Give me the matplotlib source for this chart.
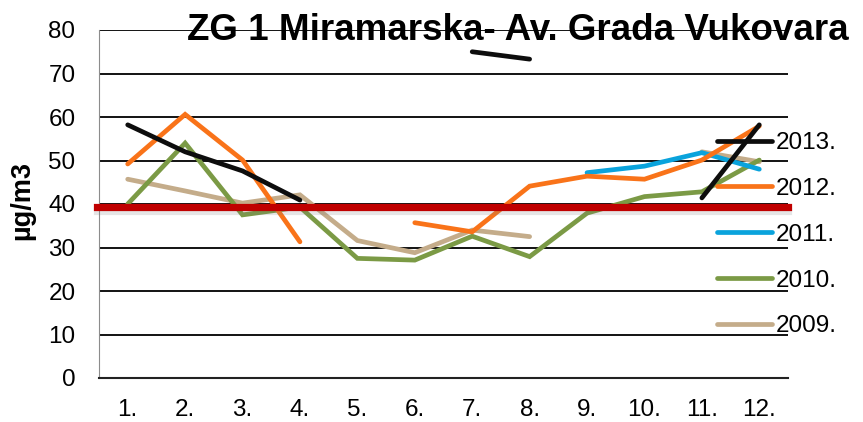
import numpy as np
import matplotlib.pyplot as plt
import matplotlib.patheffects as pe

plt.rcParams["font.family"] = ["Liberation Sans", "DejaVu Sans"]

months = ["1.", "2.", "3.", "4.", "5.", "6.", "7.", "8.", "9.", "10.", "11.", "12."]
nan = np.nan
y2013 = [58.2, 52.0, 47.6, 40.9, nan, nan, 75.0, 73.3, nan, nan, 41.4, 58.2]
y2012 = [49.2, 60.6, 50.1, 31.3, nan, 35.7, 33.6, 44.1, 46.4, 45.7, 50.1, 57.9]
y2011 = [nan, nan, nan, nan, nan, nan, nan, nan, 47.2, 48.7, 51.8, 48.0]
y2010 = [40.0, 54.0, 37.5, 39.3, 27.5, 27.1, 32.6, 27.9, 37.9, 41.7, 42.8, 50.1]
y2009 = [45.7, 43.0, 40.2, 42.1, 31.6, 28.8, 34.0, 32.5, nan, nan, 52.0, 49.7]
limit = 39.3

series = [
    ("2013.", y2013, "#0d0d0d"),
    ("2012.", y2012, "#f97319"),
    ("2011.", y2011, "#0aa3dc"),
    ("2010.", y2010, "#7b9a45"),
    ("2009.", y2009, "#c4ac8a"),
]

fig = plt.figure(figsize=(8.63, 4.22), dpi=100)
ax = fig.add_axes([99 / 863, 1 - 378 / 422, (788 - 99) / 863, (378 - 30) / 422])

x = np.arange(1, len(months) + 1)

# oldest year first, newer years end up on top
for label, vals, color in reversed(series):
    ax.plot(x, vals, color=color, linewidth=3.4, solid_capstyle="round",
            solid_joinstyle="miter", label=label, zorder=3)

ax.axhline(limit, xmin=-0.003, color="#c00000", linewidth=5.2, zorder=4,
           path_effects=[pe.SimpleLineShadow(offset=(0, -3), shadow_color="gray", alpha=0.2),
                         pe.Normal()], clip_on=False)

ax.set_xlim(0.5, 12.5)
ax.set_ylim(0, 80)
ax.set_yticks(np.arange(0, 81, 10))
ax.set_xticks(x)
ax.set_xticklabels(months)
ax.tick_params(axis="both", length=0, labelsize=17.5, colors="black")
ax.tick_params(axis="y", pad=17)
ax.tick_params(axis="x", pad=15)
ax.yaxis.grid(True, color="black", linewidth=1.3)
ax.set_axisbelow(True)
for s in ["top", "right"]:
    ax.spines[s].set_visible(False)
ax.spines["left"].set_color("#8c8c8c")
ax.spines["bottom"].set_color("#222222")
ax.spines["bottom"].set_linewidth(1.5)

ax.set_ylabel("µg/m3", fontsize=19.5, fontweight="bold")
ax.yaxis.set_label_coords(-0.092, 0.51)

handles, labels = ax.get_legend_handles_labels()
leg = fig.legend(handles[::-1], labels[::-1], loc="upper left",
                 bbox_to_anchor=(717 / 863, 1 - 132 / 422), frameon=False,
                 fontsize=17.5, handlelength=2.25, handletextpad=0.16,
                 labelspacing=0.98, borderaxespad=0, borderpad=0)
leg.set_zorder(5)

fig.text(518 / 863, 1 - 39.5 / 422, "ZG 1 Miramarska- Av. Grada Vukovara",
         ha="center", va="baseline", fontsize=26.5, fontweight="bold", zorder=6)

fig.savefig("out.png", dpi=100)
